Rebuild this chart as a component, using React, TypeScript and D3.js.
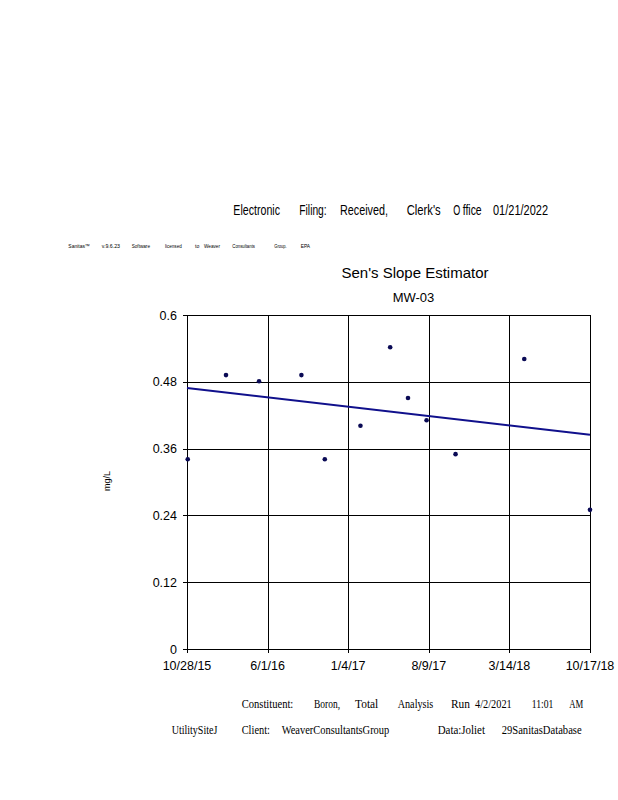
import React from "react";
import * as d3 from "d3";

// ---- data ----
const sampleDates = [
  "2015-10-30", "2016-02-10", "2016-05-09", "2016-08-31", "2016-11-02", "2017-02-06",
  "2017-04-27", "2017-06-14", "2017-08-03", "2017-10-20", "2018-04-23", "2018-10-17",
];
const sampleValues = [0.341, 0.492, 0.481, 0.492, 0.341, 0.401, 0.542, 0.451, 0.411, 0.35, 0.521, 0.25];
const trendDates = ["2015-10-28", "2018-10-17"];
const trendValues = [0.469, 0.385];
const xTickDates = ["2015-10-28", "2016-06-01", "2017-01-04", "2017-08-09", "2018-03-14", "2018-10-17"];
const yTicks = [0, 0.12, 0.24, 0.36, 0.48, 0.6];

const title = "Sen's Slope Estimator";
const subtitle = "MW-03";
const yLabel = "mg/L";
const headerWords = ["Electronic", "Filing:", "Received,", "Clerk's", "O", "ffice", "01/21/2022"];
const softwareWords = ["Sanitas™", "v.9.6.23", "Software", "licensed", "to", "Weaver", "Consultants", "Group.", "EPA"];
const footer1Words = ["Constituent:", "Boron,", "Total", "Analysis", "Run", "4/2/2021", "11:01", "AM"];
const footer2Words = ["UtilitySiteJ", "Client:", "WeaverConsultantsGroup", "Data:Joliet", "29SanitasDatabase"];

// ---- layout ----
const headerSpans = [[233.3, 280], [299.3, 326.7], [340, 388], [406.7, 440.7], [453.3, 460.3], [462.7, 481.7], [493, 548]];
const softwareSpans = [[68.3, 90], [101.7, 120], [131.7, 150], [165, 181.7], [195, 199.3], [204, 220], [232.3, 255], [274.3, 286.7], [300.7, 310]];
const footer1Spans = [[241.7, 293.3], [314, 340], [355, 378.3], [397.7, 433.3], [451, 470], [475, 511.7], [531.7, 553.3], [569.3, 583.3]];
const footer2Spans = [[171.7, 217.3], [241.7, 270], [281.7, 389.3], [437.7, 485], [501.7, 581.7]];

const parse = (s: string) => new Date(s + "T00:00:00Z");
const fmt = (d: Date) => `${d.getUTCMonth() + 1}/${d.getUTCDate()}/${String(d.getUTCFullYear()).slice(2)}`;

const plot = { left: 187, right: 590, top: 315, bottom: 649 };

function Words({ words, spans, y, size, family }: { words: string[]; spans: number[][]; y: number; size: number; family: string }) {
  return (
    <g fontFamily={family} fontSize={size} fill="#000">
      {words.map((w, i) => (
        <text key={i} x={spans[i][0]} y={y} textLength={spans[i][1] - spans[i][0]} lengthAdjust="spacingAndGlyphs">
          {w}
        </text>
      ))}
    </g>
  );
}

export default function App() {
  const x = d3.scaleUtc().domain([parse(trendDates[0]), parse(trendDates[1])]).range([plot.left, plot.right]);
  const y = d3.scaleLinear().domain([0, 0.6]).range([plot.bottom, plot.top]);
  const line = d3
    .line<number>()
    .x((_, i) => x(parse(trendDates[i])))
    .y((v) => y(v));
  const sans = "'Liberation Sans', Arial, sans-serif";
  const serif = "'Liberation Serif', 'Times New Roman', serif";

  return (
    <svg width={618} height={800} style={{ position: "absolute", left: 0, top: 0, background: "#fff" }}>
      <rect x={0} y={0} width={618} height={800} fill="#fff" />
      <Words words={headerWords} spans={headerSpans} y={215} size={14} family={sans} />
      <Words words={softwareWords} spans={softwareSpans} y={248} size={5.5} family={sans} />

      <text x={415} y={278} textAnchor="middle" fontFamily={sans} fontSize={15} fill="#000">{title}</text>
      <text x={413.5} y={302} textAnchor="middle" fontFamily={sans} fontSize={13} fill="#000">{subtitle}</text>

      {/* grid */}
      <g stroke="#000" strokeWidth={1} shapeRendering="crispEdges">
        {yTicks.map((t) => (
          <line key={"y" + t} x1={plot.left - 4} x2={plot.right} y1={Math.round(y(t)) + 0.5} y2={Math.round(y(t)) + 0.5} />
        ))}
        {xTickDates.map((d) => (
          <line key={"x" + d} x1={Math.round(x(parse(d))) + 0.5} x2={Math.round(x(parse(d))) + 0.5} y1={plot.top} y2={plot.bottom + 4} />
        ))}
      </g>

      <g fontFamily={sans} fontSize={12.5} fill="#000">
        {yTicks.map((t) => (
          <text key={"yl" + t} x={177} y={y(t) + 4.5} textAnchor="end">{String(t)}</text>
        ))}
        {xTickDates.map((d) => (
          <text key={"xl" + d} x={x(parse(d))} y={670} textAnchor="middle">{fmt(parse(d))}</text>
        ))}
      </g>

      <text transform="translate(110,481) rotate(-90)" textAnchor="middle" fontFamily={sans} fontSize={9} fill="#000">{yLabel}</text>

      <path d={line(trendValues) || ""} fill="none" stroke="#10108c" strokeWidth={2} />

      <g fill="#0a0a55">
        {sampleValues.map((v, i) => (
          <circle key={i} cx={x(parse(sampleDates[i]))} cy={y(v)} r={2.3} />
        ))}
      </g>

      <Words words={footer1Words} spans={footer1Spans} y={708} size={12} family={serif} />
      <Words words={footer2Words} spans={footer2Spans} y={734} size={12} family={serif} />
    </svg>
  );
}
